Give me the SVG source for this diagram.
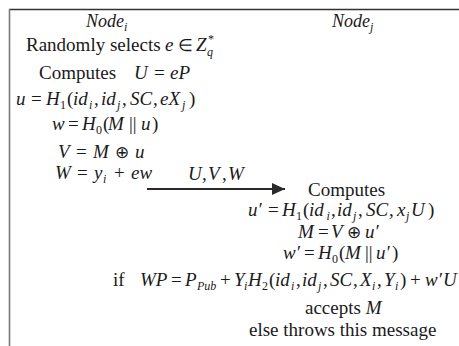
<svg xmlns="http://www.w3.org/2000/svg" width="459" height="346" viewBox="0 0 459 346">
<style>
text{font-family:"Liberation Serif","Times New Roman",serif;font-size:19px;fill:#1a1a1a}
.i{font-style:italic}
.s{font-size:12px}
.n{font-size:18px;font-style:italic}
.op{font-size:17px}
</style>
<defs>
<marker id="ah" markerUnits="userSpaceOnUse" markerWidth="14" markerHeight="14" refX="13" refY="7" orient="auto">
<path d="M0,1 L13,7 L0,13 Z" fill="#2a2a2a"/>
</marker>
</defs>
<rect width="459" height="346" fill="#fff"/>
<g id="frame">
<line x1="9" y1="9.5" x2="459" y2="9.5" stroke="#333" stroke-width="1.6"/>
<line x1="9.5" y1="9" x2="9.5" y2="346" stroke="#7a7a7a" stroke-width="1.6"/>
</g>
<g id="node-i">
<text x="86" y="27" class="n">Node<tspan class="s" dy="4">i</tspan></text>
<text x="26" y="51">Randomly selects<tspan class="i" x="165">e</tspan><tspan class="op" x="178">∈</tspan><tspan class="i" x="196">Z</tspan><tspan class="s" x="208" y="43">*</tspan><tspan class="s i" x="207" y="56">q</tspan></text>
<text x="39" y="79">Computes<tspan class="i" x="134">U</tspan><tspan x="154">=</tspan><tspan class="i" x="170">eP</tspan></text>
<text x="16" y="105"><tspan class="i">u</tspan><tspan x="31">=</tspan><tspan class="i" x="46">H</tspan><tspan class="s" x="60" y="109">1</tspan><tspan x="67" y="105">(</tspan><tspan class="i" x="73">id</tspan><tspan class="s i" x="89" y="109">i</tspan><tspan x="94" y="105">,</tspan><tspan class="i" x="101">id</tspan><tspan class="s i" x="117" y="109">j</tspan><tspan x="122" y="105">,</tspan><tspan class="i" x="130">SC</tspan><tspan x="153">,</tspan><tspan class="i" x="160">eX</tspan><tspan class="s i" x="182" y="109">j</tspan><tspan x="189" y="105">)</tspan></text>
<text x="52" y="130"><tspan class="i">w</tspan><tspan x="68">=</tspan><tspan class="i" x="82">H</tspan><tspan class="s" x="96" y="134">0</tspan><tspan x="103" y="130">(</tspan><tspan class="i" x="108">M</tspan><tspan x="129">||</tspan><tspan class="i" x="141">u</tspan><tspan x="152">)</tspan></text>
<text x="58" y="158"><tspan class="i">V</tspan><tspan x="76">=</tspan><tspan class="i" x="93">M</tspan><tspan class="op" x="115">⊕</tspan><tspan class="i" x="135">u</tspan></text>
<text x="55" y="179"><tspan class="i">W</tspan><tspan x="77">=</tspan><tspan class="i" x="94">y</tspan><tspan class="s i" x="103" y="183">i</tspan><tspan x="114" y="179">+</tspan><tspan class="i" x="131">ew</tspan></text>
</g>
<g id="connectors">
<line x1="147" y1="189" x2="285" y2="189" stroke="#2a2a2a" stroke-width="2" marker-end="url(#ah)"/>
<text x="188" y="180"><tspan class="i">U</tspan><tspan x="202">,</tspan><tspan class="i" x="208">V</tspan><tspan x="222">,</tspan><tspan class="i" x="228">W</tspan></text>
</g>
<g id="node-j">
<text x="332" y="27" class="n">Node<tspan class="s" dy="4">j</tspan></text>
<text x="308" y="196">Computes</text>
<text x="248" y="216"><tspan class="i">u′</tspan><tspan x="268">=</tspan><tspan class="i" x="282">H</tspan><tspan class="s" x="296" y="220">1</tspan><tspan x="303" y="216">(</tspan><tspan class="i" x="309">id</tspan><tspan class="s i" x="326.5" y="220">i</tspan><tspan x="331" y="216">,</tspan><tspan class="i" x="337">id</tspan><tspan class="s i" x="353" y="220">j</tspan><tspan x="358" y="216">,</tspan><tspan class="i" x="366">SC</tspan><tspan x="389">,</tspan><tspan class="i" x="397">x</tspan><tspan class="s i" x="406" y="220">j</tspan><tspan class="i" x="411" y="216">U</tspan><tspan x="428">)</tspan></text>
<text x="298" y="238"><tspan class="i">M</tspan><tspan x="318">=</tspan><tspan class="i" x="331">V</tspan><tspan class="op" x="347">⊕</tspan><tspan class="i" x="365">u′</tspan></text>
<text x="283" y="259"><tspan class="i">w′</tspan><tspan x="304">=</tspan><tspan class="i" x="318">H</tspan><tspan class="s" x="332" y="263">0</tspan><tspan x="339" y="259">(</tspan><tspan class="i" x="345">M</tspan><tspan x="365">||</tspan><tspan class="i" x="376">u′</tspan><tspan x="392">)</tspan></text>
<text x="113" y="286">if<tspan class="i" x="140">WP</tspan><tspan x="171">=</tspan><tspan class="i" x="185">P</tspan><tspan class="s i" x="197" y="290">Pub</tspan><tspan x="220" y="286">+</tspan><tspan class="i" x="234">Y</tspan><tspan class="s i" x="244" y="290">i</tspan><tspan class="i" x="248" y="286">H</tspan><tspan class="s" x="262" y="290">2</tspan><tspan x="269" y="286">(</tspan><tspan class="i" x="275">id</tspan><tspan class="s i" x="291" y="290">i</tspan><tspan x="296" y="286">,</tspan><tspan class="i" x="302">id</tspan><tspan class="s i" x="318" y="290">j</tspan><tspan x="323" y="286">,</tspan><tspan class="i" x="330">SC</tspan><tspan x="353">,</tspan><tspan class="i" x="360">X</tspan><tspan class="s i" x="372" y="290">i</tspan><tspan x="377" y="286">,</tspan><tspan class="i" x="384">Y</tspan><tspan class="s i" x="395" y="290">i</tspan><tspan x="400" y="286">)</tspan><tspan x="410">+</tspan><tspan class="i" x="425">w′</tspan><tspan class="i" x="443">U</tspan></text>
<text x="305" y="314">accepts <tspan class="i">M</tspan></text>
<text x="249" y="336">else throws this message</text>
</g>
</svg>
